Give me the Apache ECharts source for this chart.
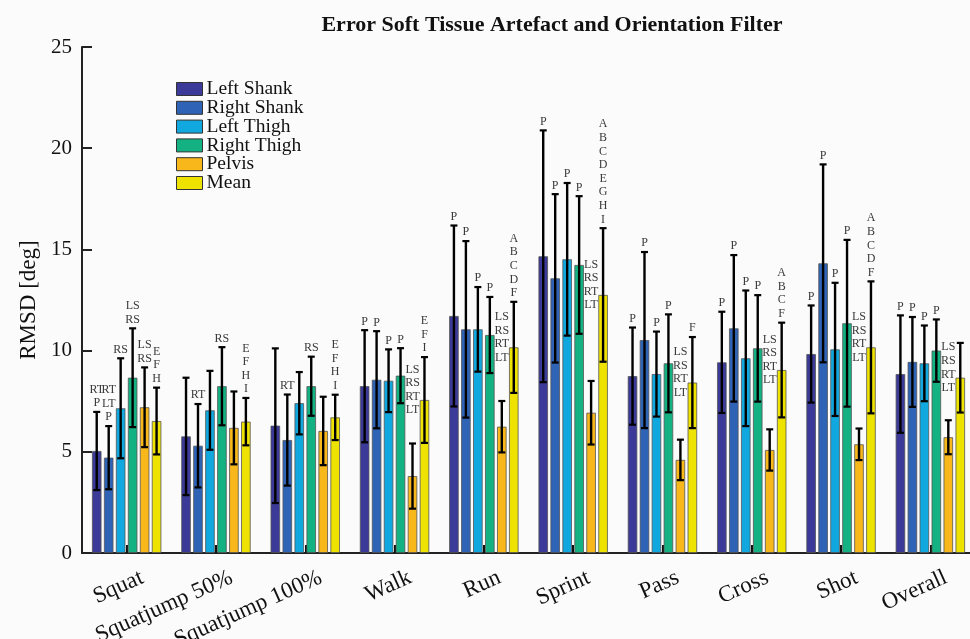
<!DOCTYPE html>
<html><head><meta charset="utf-8">
<script src="https://cdn.jsdelivr.net/npm/echarts@6/dist/echarts.min.js"></script>
<style>html,body{margin:0;padding:0;background:#fbfbfb;} #c{width:970px;height:639px;}</style>
</head><body><div id="c"></div>
<script>
// ---------------- data ----------------
const categories = ['Squat', 'Squatjump 50%', 'Squatjump 100%', 'Walk', 'Run', 'Sprint', 'Pass', 'Cross', 'Shot', 'Overall'];
const seriesNames = ['Left Shank', 'Right Shank', 'Left Thigh', 'Right Thigh', 'Pelvis', 'Mean'];

const leftShankMean  = [5.04, 5.76, 6.29, 8.24, 11.71, 14.66, 8.74, 9.42, 9.83, 8.84];
const leftShankSD    = [1.93, 2.90, 3.82, 2.77, 4.47, 6.22, 2.40, 2.50, 2.40, 2.90];
const rightShankMean = [4.71, 5.30, 5.58, 8.56, 11.05, 13.57, 10.52, 11.10, 14.31, 9.44];
const rightShankSD   = [1.56, 2.06, 2.25, 2.40, 4.36, 4.16, 4.35, 3.62, 4.89, 2.22];
const leftThighMean  = [7.15, 7.05, 7.40, 8.51, 11.05, 14.51, 8.84, 9.62, 10.06, 9.37];
const leftThighSD    = [2.47, 1.95, 1.54, 1.55, 2.09, 3.77, 2.10, 3.35, 3.29, 1.87];
const rightThighMean = [8.66, 8.24, 8.24, 8.76, 10.77, 14.23, 9.37, 10.11, 11.35, 10.00];
const rightThighSD   = [2.44, 1.93, 1.46, 1.36, 1.88, 3.40, 2.42, 2.63, 4.12, 1.54];
const pelvisMean     = [7.20, 6.18, 6.03, 3.80, 6.24, 6.93, 4.60, 5.09, 5.37, 5.72];
const pelvisSD       = [1.97, 1.80, 1.69, 1.61, 1.27, 1.57, 1.00, 1.02, 0.78, 0.84];
const meanMean       = [6.52, 6.49, 6.70, 7.56, 10.16, 12.75, 8.42, 9.04, 10.16, 8.66];
const meanSD         = [1.65, 1.17, 1.12, 2.12, 2.25, 3.30, 2.25, 2.34, 3.26, 1.72];

const notesLeftShank  = ['RT\nP', '', '', 'P', 'P', 'P', 'P', 'P', 'P', 'P'];
const notesRightShank = ['RT\nLT\nP', 'RT', 'RT', 'P', 'P', 'P', 'P', 'P', 'P', 'P'];
const notesLeftThigh  = ['RS', '', '', 'P', 'P', 'P', 'P', 'P', 'P', 'P'];
const notesRightThigh = ['LS\nRS', 'RS', 'RS', 'P', 'P', 'P', 'P', 'P', 'P', 'P'];
const notesPelvis     = ['LS\nRS', '', '', 'LS\nRS\nRT\nLT', 'LS\nRS\nRT\nLT', 'LS\nRS\nRT\nLT', 'LS\nRS\nRT\nLT', 'LS\nRS\nRT\nLT', 'LS\nRS\nRT\nLT', 'LS\nRS\nRT\nLT'];
const notesMean       = ['E\nF\nH', 'E\nF\nH\nI', 'E\nF\nH\nI', 'E\nF\nI', 'A\nB\nC\nD\nF', 'A\nB\nC\nD\nE\nG\nH\nI', 'F', 'A\nB\nC\nF', 'A\nB\nC\nD\nF', ''];

const yTicks = [0, 5, 10, 15, 20, 25];

// ---------------- build ----------------
const means = [leftShankMean, rightShankMean, leftThighMean, rightThighMean, pelvisMean, meanMean];
const sds = [leftShankSD, rightShankSD, leftThighSD, rightThighSD, pelvisSD, meanSD];
const notes = [notesLeftShank, notesRightShank, notesLeftThigh, notesRightThigh, notesPelvis, notesMean];
const colors = ['#3b3a98', '#2f63b5', '#10a8df', '#14b282', '#f8b71a', '#eee200'];
const SERIF = '"Liberation Serif", "DejaVu Serif", serif';
const BAR_W = 9.5, GAP = 0.26, STEP = BAR_W * (1 + GAP);

const errData = [];
for (let s = 0; s < 6; s++) {
  for (let i = 0; i < categories.length; i++) {
    errData.push([i, s, means[s][i], sds[s][i]]);
  }
}

function renderErr(params, api) {
  const cat = api.value(0), s = api.value(1), m = api.value(2), sd = api.value(3);
  const base = api.coord([cat, m]);
  const x = base[0] + (s - 2.5) * STEP;
  const yTop = api.coord([cat, m + sd])[1];
  const yBot = api.coord([cat, m - sd])[1];
  const cap = 3.5;
  const children = [
    {type: 'line', shape: {x1: x, y1: yTop, x2: x, y2: yBot}, style: {stroke: '#000', lineWidth: 2.4}},
    {type: 'line', shape: {x1: x - cap, y1: yTop, x2: x + cap, y2: yTop}, style: {stroke: '#000', lineWidth: 2.2}},
    {type: 'line', shape: {x1: x - cap, y1: yBot, x2: x + cap, y2: yBot}, style: {stroke: '#000', lineWidth: 2.2}}
  ];
  const note = notes[s][cat];
  if (note) {
    const lines = note.split('\n').length;
    const lh = 13.6;
    let yb = yTop - 2;
    if (s === 4) {
      const alt = api.coord([cat, meanMean[cat] + 0.5])[1] + lines * lh / 2;
      yb = Math.min(yb, alt);
    }
    children.push({
      type: 'text',
      x: x, y: yb,
      style: {text: note, fill: '#3a3a3a', fontSize: 12, fontFamily: SERIF, lineHeight: lh, align: 'center', verticalAlign: 'bottom'}
    });
  }
  return {type: 'group', children};
}

const series = seriesNames.map((name, s) => ({
  name, type: 'bar', data: means[s], barWidth: BAR_W, barGap: (GAP * 100) + '%',
  itemStyle: {color: colors[s], borderColor: '#555', borderWidth: 0.8},
  emphasis: {disabled: true}
}));
series.push({type: 'custom', renderItem: renderErr, data: errData, encode: {x: 0, y: 2}, z: 5, silent: true});

const chart = echarts.init(document.getElementById('c'), null, {renderer: 'canvas'});
chart.setOption({
  backgroundColor: '#fbfbfb',
  animation: false,
  graphic: [{
    type: 'text', x: 552, y: 25,
    style: {text: 'Error Soft Tissue Artefact and Orientation Filter', fontSize: 22, fontWeight: 'bold', fontFamily: SERIF, fill: '#111', align: 'center', verticalAlign: 'middle'}
  }],
  legend: {
    orient: 'vertical', left: 176, top: 79, padding: 0, itemGap: -1.2,
    itemWidth: 26, itemHeight: 13, icon: 'rect',
    itemStyle: {borderColor: '#333', borderWidth: 1},
    textStyle: {fontSize: 19.5, fontFamily: SERIF, color: '#111', padding: [0, 0, 0, -1]},
    data: seriesNames
  },
  grid: {left: 82, top: 47, width: 893, height: 506, containLabel: false, outerBoundsMode: 'none'},
  xAxis: {
    type: 'category', data: categories, boundaryGap: true,
    axisLine: {lineStyle: {color: '#222', width: 2}},
    axisTick: {show: true, inside: true, alignWithLabel: true, length: 8, lineStyle: {color: '#111', width: 2}},
    axisLabel: {rotate: 24, fontSize: 23, fontFamily: SERIF, color: '#111', margin: 18, interval: 0,
      align: 'right', verticalAlign: 'top', padding: [0, -12, 0, 0]}
  },
  yAxis: {
    type: 'value', min: yTicks[0], max: yTicks[yTicks.length - 1], interval: 5,
    name: 'RMSD [deg]', nameLocation: 'middle', nameGap: 40, nameRotate: 90,
    nameTextStyle: {fontSize: 23, fontFamily: SERIF, color: '#111'},
    axisLine: {show: true, lineStyle: {color: '#222', width: 2}},
    axisTick: {show: true, inside: true, length: 10, lineStyle: {color: '#222', width: 2}},
    axisLabel: {fontSize: 21, fontFamily: SERIF, color: '#111', margin: 10},
    splitLine: {show: false}
  },
  series
});
</script></body></html>
